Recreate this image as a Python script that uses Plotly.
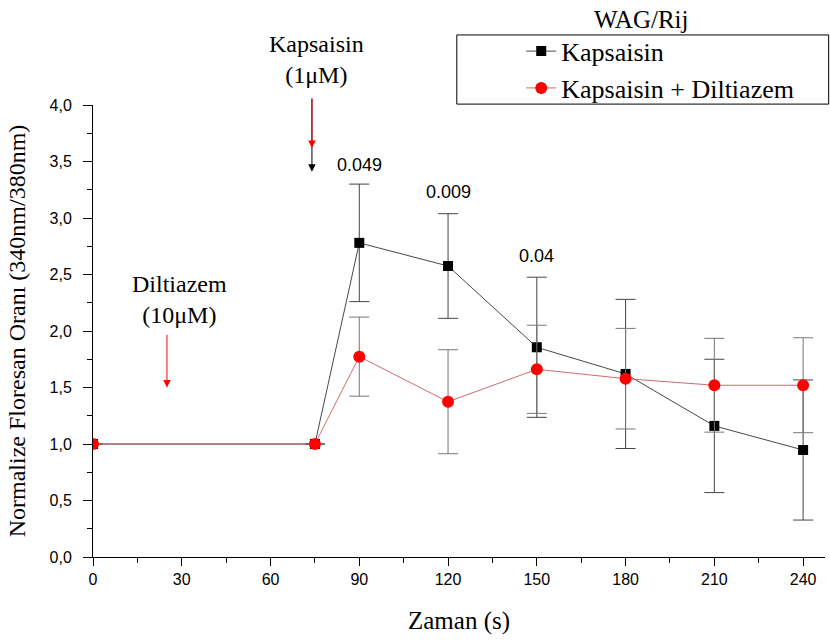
import plotly.graph_objects as go

time_s = [0, 75, 90, 120, 150, 180, 210, 240]
kaps = [1.0, 1.0, 2.78, 2.575, 1.856, 1.62, 1.16, 0.947]
kaps_err = [None, None, 0.52, 0.463, 0.62, 0.66, 0.59, 0.62]
kaps_dil = [1.0, 1.0, 1.773, 1.374, 1.661, 1.578, 1.52, 1.52]
kaps_dil_err = [None, None, 0.35, 0.46, 0.39, 0.445, 0.415, 0.42]

p_x = [90, 120, 150]
p_y = [3.47, 3.23, 2.66]
p_labels = ["0.049", "0.009", "0.04"]

serif = "Liberation Serif, Times New Roman, serif"
sans = "Liberation Sans, Arial, sans-serif"

fig = go.Figure()
fig.add_trace(go.Scatter(
    x=time_s, y=kaps, name="Kapsaisin", mode="lines+markers",
    line=dict(color="#333333", width=0.9),
    marker=dict(symbol="square", size=10, color="black"),
    error_y=dict(type="data", array=kaps_err, visible=True, color="#444444", thickness=1, width=10),
))
fig.add_trace(go.Scatter(
    x=time_s, y=kaps_dil, name="Kapsaisin + Diltiazem", mode="lines+markers",
    line=dict(color="rgb(200,90,90)", width=0.9),
    marker=dict(symbol="circle", size=12, color="red"),
    error_y=dict(type="data", array=kaps_dil_err, visible=True, color="#777777", thickness=1, width=10),
))

for x, y, t in zip(p_x, p_y, p_labels):
    fig.add_annotation(x=x, y=y, text=t, showarrow=False, font=dict(family=sans, size=18, color="black"))

# arrows
fig.add_annotation(x=74, y=3.41, ax=74, ay=4.07, axref="x", ayref="y", text="", showarrow=True,
                   arrowhead=2, arrowsize=1.5, arrowwidth=1, arrowcolor="black")
fig.add_annotation(x=74, y=3.62, ax=74, ay=4.07, axref="x", ayref="y", text="", showarrow=True,
                   arrowhead=2, arrowsize=1.5, arrowwidth=1, arrowcolor="red")
fig.add_annotation(x=25, y=1.5, ax=25, ay=1.98, axref="x", ayref="y", text="", showarrow=True,
                   arrowhead=2, arrowsize=1.5, arrowwidth=1, arrowcolor="red")

fig.add_annotation(x=75.5, y=1.1, yref="paper", xanchor="center", yanchor="middle",
                   text="Kapsaisin<br>(1μM)", showarrow=False,
                   font=dict(family=serif, size=24, color="black"))
fig.add_annotation(x=29.1, y=2.283, xanchor="center", yanchor="middle",
                   text="Diltiazem<br>(10μM)", showarrow=False,
                   font=dict(family=serif, size=24, color="black"))

fig.add_annotation(x=0.749, y=1.19, xref="paper", yref="paper", xanchor="center", yanchor="middle",
                   text="WAG/Rij", showarrow=False,
                   font=dict(family=serif, size=25, color="black"))

# legend box
fig.add_shape(type="rect", xref="paper", yref="paper", x0=0.497, x1=1.005, y0=1.002, y1=1.155,
              line=dict(color="black", width=1))

fig.update_layout(
    width=830, height=642,
    margin=dict(l=93, r=5, t=105, b=85),
    plot_bgcolor="white", paper_bgcolor="white",
    separators=",.",
    showlegend=True,
    legend=dict(x=0.585, y=1.171, xanchor="left", yanchor="top", bgcolor="rgba(0,0,0,0)",
                font=dict(family=serif, size=26, color="black"), tracegroupgap=0),
    xaxis=dict(range=[0, 247.4], tickvals=[0, 30, 60, 90, 120, 150, 180, 210, 240],
               showline=True, linecolor="black", linewidth=1, ticks="outside", ticklen=8,
               tickcolor="black", showgrid=False, zeroline=False,
               minor=dict(dtick=15, tick0=0, ticks="outside", ticklen=5, tickcolor="black"),
               tickfont=dict(family=sans, size=16, color="black"),
               title=dict(text="Zaman (s)", font=dict(family=serif, size=25, color="black"), standoff=24)),
    yaxis=dict(range=[0, 4.0], dtick=0.5, tick0=0, tickformat=".1f",
               showline=True, linecolor="black", linewidth=1, ticks="outside", ticklen=9,
               tickcolor="black", showgrid=False, zeroline=False, ticklabelstandoff=8,
               minor=dict(dtick=0.25, tick0=0, ticks="outside", ticklen=5, tickcolor="black"),
               tickfont=dict(family=sans, size=16, color="black"),
               title=dict(text="Normalize Floresan Oranı (340nm/380nm)", font=dict(family=serif, size=24, color="black"), standoff=17)),
)

fig.write_html("out.html", config={"displayModeBar": False},
               post_script="document.body.style.margin='0px';")
